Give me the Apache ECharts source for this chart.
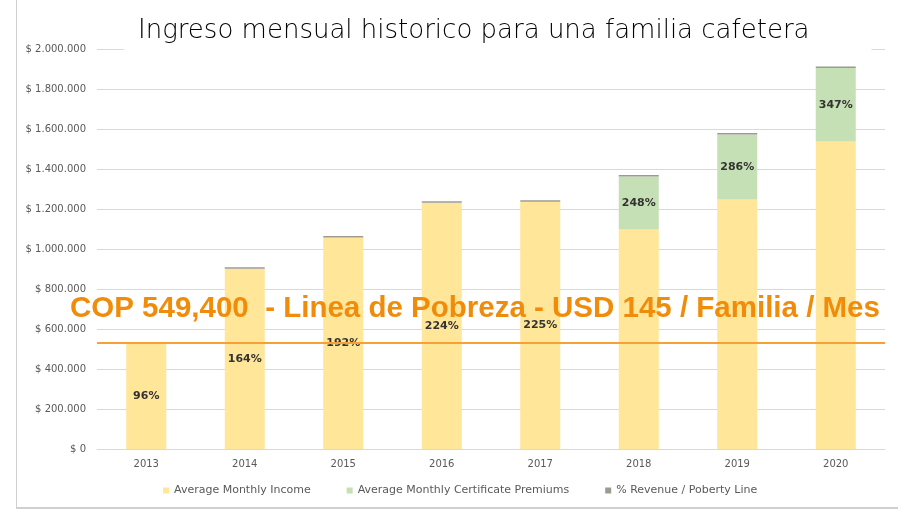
<!DOCTYPE html>
<html>
<head>
<meta charset="utf-8">
<script src="https://cdn.jsdelivr.net/npm/echarts@6/dist/echarts.min.js"></script>
<style>
  html, body { margin: 0; padding: 0; background: #fff; }
  #main { width: 898px; height: 510px; }
</style>
</head>
<body>
<div id="main"></div>
<script>
const chartDom = document.getElementById('main');
const myChart = echarts.init(chartDom);

// datos
const years = ['2013', '2014', '2015', '2016', '2017', '2018', '2019', '2020'];
const monthlyIncome = [527000, 901000, 1057000, 1231000, 1236000, 1098000, 1248000, 1537000];
const certificatePremiums = [null, null, null, null, null, 264000, 324000, 368000];
const revenueMark = [8000, 8000, 8000, 8000, 8000, 8000, 8000, 8000];
const pctRevenue = ['96%', '164%', '192%', '224%', '225%', '248%', '286%', '347%'];
const povertyLine = 532000; // donde esta dibujada la linea naranja
const povertyText = 'COP 549,400  - Linea de Pobreza - USD 145 / Familia / Mes';

const grey = '#595959';

function pesos(v) {
  if (v === 0) return '$ 0';
  return '$ ' + String(v).replace(/\B(?=(\d{3})+(?!\d))/g, '.');
}

const pctLabel = {
  show: true,
  position: 'inside',
  color: '#333',
  fontFamily: 'DejaVu Sans',
  fontWeight: 'bold',
  fontSize: 11
};

let option = {
  animation: false,
  title: {
    text: 'Ingreso mensual historico para una familia cafetera',
    left: 124,
    top: 14,
    padding: [4, 62, 6, 14],
    backgroundColor: '#fff',
    textStyle: { fontFamily: 'DejaVu Sans', fontWeight: 300, fontSize: 26, color: '#000' }
  },
  grid: { left: 97, right: 13, top: 49, bottom: 61 },
  legend: {
    bottom: 9,
    left: 158,
    icon: 'rect',
    itemWidth: 6,
    itemHeight: 6,
    itemGap: 36,
    textStyle: { color: grey, fontFamily: 'DejaVu Sans', fontSize: 11 },
    data: ['Average Monthly Income', 'Average Monthly Certificate Premiums', '% Revenue / Poberty Line']
  },
  xAxis: {
    type: 'category',
    data: years,
    axisLine: { show: true, lineStyle: { color: '#d9d9d9' } },
    axisTick: { show: false },
    axisLabel: { color: grey, fontFamily: 'DejaVu Sans', fontSize: 10, margin: 10 }
  },
  yAxis: {
    type: 'value',
    min: 0,
    max: 2000000,
    interval: 200000,
    axisLine: { show: false },
    axisTick: { show: false },
    splitLine: { lineStyle: { color: '#d9d9d9' } },
    axisLabel: { color: grey, fontFamily: 'DejaVu Sans', fontSize: 10, margin: 11, formatter: pesos }
  },
  series: [
    {
      name: 'Average Monthly Income',
      type: 'bar',
      stack: 'ingreso',
      barWidth: 40,
      data: monthlyIncome,
      itemStyle: { color: '#FFE699' },
      label: Object.assign({}, pctLabel, {
        formatter: p => certificatePremiums[p.dataIndex] == null ? pctRevenue[p.dataIndex] : ''
      }),
      markLine: {
        silent: true,
        symbol: 'none',
        label: { show: false },
        lineStyle: { color: '#F7A035', width: 2, type: 'solid' },
        data: [{ yAxis: povertyLine }]
      }
    },
    {
      name: 'Average Monthly Certificate Premiums',
      type: 'bar',
      stack: 'ingreso',
      barWidth: 40,
      data: certificatePremiums,
      itemStyle: { color: '#C5E0B4' },
      label: Object.assign({}, pctLabel, {
        formatter: p => pctRevenue[p.dataIndex]
      })
    },
    {
      name: '% Revenue / Poberty Line',
      type: 'bar',
      stack: 'ingreso',
      barWidth: 40,
      data: revenueMark,
      itemStyle: { color: '#9E9A90' }
    }
  ],
  graphic: [
    {
      type: 'text',
      left: 70,
      top: 294,
      z: 100,
      style: {
        text: povertyText,
        fill: '#F08C0A',
        font: 'bold 29.5px "Liberation Sans"'
      }
    },
    { type: 'rect', left: 16, top: 0, z: -1, shape: { width: 1, height: 508 }, style: { fill: '#d0d0d0' } },
    { type: 'rect', left: 16, top: 507, z: -1, shape: { width: 882, height: 2 }, style: { fill: '#d0d0d0' } }
  ]
};

myChart.setOption(option);
</script>
</body>
</html>
